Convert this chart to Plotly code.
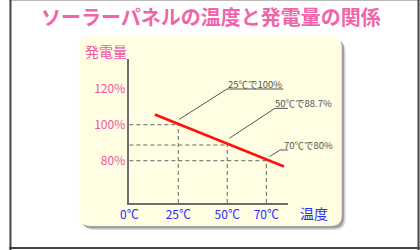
import plotly.graph_objects as go

# ---- data ----
title_text = "ソーラーパネルの温度と発電量の関係"
y_title = "発電量"
x_title = "温度"
x_tick_vals = [0, 25, 50, 70]
x_tick_text = ["0℃", "25℃", "50℃", "70℃"]
y_tick_vals = [80, 100, 120]
y_tick_text = ["80%", "100%", "120%"]
line_temp = [13, 79]
line_pct = [105.7, 76.8]
point_temp = [25, 50, 70]
point_pct = [100, 88.7, 80]
point_labels = ["25℃で100%", "50℃で88.7%", "70℃で80%"]

W, H = 420, 250
FONT = "Noto Sans CJK JP"
PINK = "#F064AA"
PINK2 = "#EE55A5"
BLUE = "#2B2BFF"


def P(x, y):
    return x / W, 1 - y / H


def rrect(x0, y0, x1, y1, r):
    pts = [
        ("M", [(x0 + r, y0)]), ("L", [(x1 - r, y0)]), ("Q", [(x1, y0), (x1, y0 + r)]),
        ("L", [(x1, y1 - r)]), ("Q", [(x1, y1), (x1 - r, y1)]), ("L", [(x0 + r, y1)]),
        ("Q", [(x0, y1), (x0, y1 - r)]), ("L", [(x0, y0 + r)]), ("Q", [(x0, y0), (x0 + r, y0)]),
    ]
    s = ""
    for cmd, ps in pts:
        s += cmd + " " + " ".join("%.5f,%.5f" % P(*p) for p in ps) + " "
    return s + "Z"


fig = go.Figure()

fig.add_trace(go.Scatter(x=line_temp, y=line_pct, mode="lines",
                         line=dict(color="#FF1010", width=2.6),
                         hoverinfo="skip", showlegend=False))

shapes = []
# page border
shapes.append(dict(type="line", xref="paper", yref="paper", x0=P(0, 0.5)[0], x1=P(420, 0.5)[0],
                   y0=P(0, 0.5)[1], y1=P(0, 0.5)[1], line=dict(color="#BBBBBB", width=1), layer="below"))
shapes.append(dict(type="line", xref="paper", yref="paper", x0=P(1.5, 0)[0], x1=P(1.5, 0)[0],
                   y0=0, y1=1, line=dict(color="#444444", width=2), layer="below"))
shapes.append(dict(type="line", xref="paper", yref="paper", x0=P(418.5, 0)[0], x1=P(418.5, 0)[0],
                   y0=0, y1=1, line=dict(color="#444444", width=2), layer="below"))
shapes.append(dict(type="line", xref="paper", yref="paper", x0=0, x1=1,
                   y0=P(0, 248)[1], y1=P(0, 248)[1], line=dict(color="#444444", width=2), layer="below"))

# panel shadow and panel
shapes.append(dict(type="path", xref="paper", yref="paper", path=rrect(76, 41, 344, 230, 11),
                   fillcolor="#DDDDDD", line=dict(width=0), layer="below"))
shapes.append(dict(type="path", xref="paper", yref="paper", path=rrect(74, 39, 342.5, 228.5, 11),
                   fillcolor="#A0A0A0", line=dict(width=0), layer="below"))
shapes.append(dict(type="path", xref="paper", yref="paper", path=rrect(72, 36, 340, 226, 11),
                   fillcolor="#FFFDE2", line=dict(width=0), layer="below"))

# dashed guides
for t, p in zip(point_temp, point_pct):
    shapes.append(dict(type="line", xref="x", yref="y", x0=t, x1=t, y0=56.5, y1=p,
                       line=dict(color="#666666", width=1, dash="4px,3px"), layer="below"))
    shapes.append(dict(type="line", xref="x", yref="y", x0=0, x1=t, y0=p, y1=p,
                       line=dict(color="#666666", width=1, dash="4px,3px"), layer="below"))

# leader lines (pixel offsets relative to data point)
leaders = [
    ((1, 5.4), (48.7, 35.7), 105),
    ((2, 6.7), (47.7, 36.7), 104),
    ((3, 4), (13.7, 10.7), 69.7),
]
annotations = []
for (t, p, lab, (s, e, u)) in zip(point_temp, point_pct, point_labels, leaders):
    path = "M%.1f,%.1f L%.1f,%.1f L%.1f,%.1f" % (s[0], s[1], e[0], e[1], u, e[1])
    shapes.append(dict(type="path", xref="x", yref="y", xsizemode="pixel", ysizemode="pixel",
                       xanchor=t, yanchor=p, path=path, line=dict(color="#555555", width=1)))
    annotations.append(dict(x=t, y=p, xref="x", yref="y", text=lab, showarrow=False,
                            xanchor="center", yanchor="middle",
                            xshift=(e[0] + u) / 2, yshift=e[1] + 5,
                            font=dict(family=FONT, size=9.5, color="#555555")))

annotations.append(dict(x=P(206, 0)[0], y=P(0, 16)[1], xref="paper", yref="paper", text=title_text,
                        showarrow=False, xanchor="center", yanchor="middle",
                        font=dict(family=FONT, size=20, color=PINK, weight="bold")))
annotations.append(dict(x=P(99, 0)[0], y=P(0, 51.5)[1], xref="paper", yref="paper", text=y_title,
                        showarrow=False, xanchor="center", yanchor="middle",
                        font=dict(family=FONT, size=14, color=PINK2)))
annotations.append(dict(x=P(311.5, 0)[0], y=P(0, 213)[1], xref="paper", yref="paper", text=x_title,
                        showarrow=False, xanchor="center", yanchor="middle",
                        font=dict(family=FONT, size=14, color=BLUE)))

fig.update_layout(
    width=W, height=H, margin=dict(l=0, r=0, t=0, b=0, pad=0),
    paper_bgcolor="white", plot_bgcolor="rgba(0,0,0,0)",
    showlegend=False, shapes=shapes, annotations=annotations,
    xaxis=dict(domain=[123 / W, 285 / W], range=[0, 81], showline=True, linecolor="#6E6E6E",
               linewidth=1.5, showgrid=False, zeroline=False, ticks="",
               tickvals=x_tick_vals, ticktext=x_tick_text,
               tickfont=dict(family=FONT, size=12, color=BLUE), fixedrange=True),
    yaxis=dict(domain=[(H - 203) / H, (H - 59) / H], range=[56.5, 136.5], showline=True,
               linecolor="#6E6E6E", linewidth=1.5, showgrid=False, zeroline=False, ticks="",
               tickvals=y_tick_vals, ticktext=y_tick_text,
               tickfont=dict(family=FONT, size=12, color=PINK2), fixedrange=True),
)

fig.write_html("out.html")
